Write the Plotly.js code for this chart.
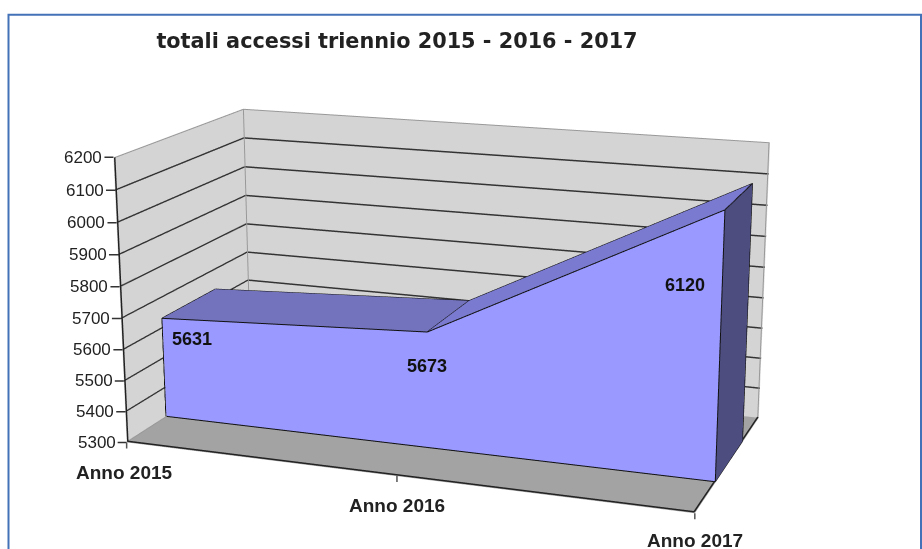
<!DOCTYPE html>
<html><head><meta charset="utf-8">
<script src="https://cdn.plot.ly/plotly-3.0.1.min.js"></script>
<style>html,body{margin:0;padding:0;background:#fff;overflow:hidden;width:922px;height:549px}#c{position:absolute;left:0;filter:blur(0.45px)}</style></head>
<body><div id="c"></div>
<script>
var categories=["Anno 2015","Anno 2016","Anno 2017"];
var values=[5631,5673,6120];
var ticks=[5300,5400,5500,5600,5700,5800,5900,6000,6100,6200];
var titleText='totali accessi triennio 2015 - 2016 - 2017';

// camera fitted to the reference's perspective
var eye={x:1.14988,y:-3.16814,z:0.90569},center={x:0.02355,y:-0.00015,z:-0.01846},up={x:-0.00519,y:0.01113,z:1};
var aspect={x:1,y:0.49655,z:0.49965};
var d0=0.29545,d1=0.71801;           // depth span of the area inside the box
var focal=2025.9477,principalY=303.88344;
var H=focal*2*Math.tan(Math.PI/8),top0=principalY-H/2;
var c=document.getElementById('c');c.style.top=top0+'px';
function py(y){return 1-(y-top0)/H;}
var base=ticks[0],zmax=ticks[ticks.length-1];
var df=d0-0.004,zb=base+3,e=0.003;   // outlines sit just in front of the faces

function face(px,py_,pz,color){return {type:'mesh3d',x:px,y:py_,z:pz,color:color,i:[0,0],j:[1,2],k:[2,3],flatshading:true,lighting:{ambient:1,diffuse:0,specular:0,roughness:1,fresnel:0},hoverinfo:'skip'};}
function line(x,y,z,col,w){return {type:'scatter3d',mode:'lines',x:x,y:y,z:z,line:{color:col,width:w},hoverinfo:'skip',showlegend:false};}
var data=[
 face([0,1,1,0],[d0,d0,d0,d0],[base,base,values[1],values[0]],'#9999ff'),
 face([1,2,2,1],[d0,d0,d0,d0],[base,base,values[2],values[1]],'#9999ff'),
 face([0,1,1,0],[d0,d0,d1,d1],[values[0],values[1],values[1],values[0]],'#7373bd'),
 face([1,2,2,1],[d0,d0,d1,d1],[values[1],values[2],values[2],values[1]],'#7a7ad0'),
 face([2,2,2,2],[d0,d1,d1,d0],[base,base,values[2],values[2]],'#4d4d80'),
 line([0,0,1,2,2,0],[df,df,df,df,df,df],[zb,values[0],values[1],values[2],zb,zb],'#111',2),
 line([0,0,null,1,1,null,2,2,null,2,2],[d0,d1,null,d0,d1,null,d0,d1,null,d0,d1],[values[0],values[0],null,values[1],values[1],null,values[2],values[2],null,zb,zb],'#111',2),
 line([0,1,2,2],[d1,d1,d1,d1],[values[0],values[1],values[2],zb],'#111',2),
 line([e,e,null,e,2-e,null,2-e,2-e],[e,e,null,e,e,null,e,1],[base+1,zmax,null,zb,zb,null,zb,zb],'#222',3),
 line([e,e,2-e,2-e,null,e,e,e],[e,1-e,1-e,1-e,null,1-e,1-e,e],[zmax-1,zmax-1,zmax-1,zb,null,zmax-1,zb,zb],'#999',2)
];
var annos=[];
ticks.forEach(function(t){annos.push({x:0,y:0,z:t,text:String(t),showarrow:true,arrowhead:0,arrowwidth:1.5,arrowcolor:'#333',ax:-9,ay:0,standoff:0,borderpad:1,xanchor:'right',font:{size:17,color:'#222',family:'Liberation Sans'}});});
var catShift=[[-2,-30],[0,-29],[0,-27]];
categories.forEach(function(c,i){
 annos.push({x:i,y:0,z:base,text:'<b>'+c+'</b>',showarrow:false,xshift:catShift[i][0],yshift:catShift[i][1],font:{size:19,color:'#222',family:'Liberation Sans'}});
 annos.push({x:i,y:0,z:base,text:' ',showarrow:true,arrowhead:0,arrowwidth:1.5,arrowcolor:'#555',ax:0,ay:8,standoff:0,font:{size:1}});
});
var valShift=[[30,-21],[-1,-34],[-40,-75]];
values.forEach(function(v,i){annos.push({x:i,y:d0,z:v,text:'<b>'+v+'</b>',showarrow:false,xshift:valShift[i][0],yshift:valShift[i][1],font:{size:18,color:'#111',family:'Liberation Sans'}});});
function ax(extra){return Object.assign({showticklabels:false,showgrid:false,zeroline:false,showline:false,showspikes:false,title:{text:''},ticks:'',autorange:false},extra);}
var layout={width:922,height:H,autosize:false,paper_bgcolor:'#fff',margin:{l:0,r:0,t:0,b:0,pad:0},showlegend:false,hovermode:false,
 title:{text:'<b>'+titleText+'</b>',x:397/922,y:py(40),xanchor:'center',yanchor:'middle',font:{size:20.8,color:'#222',family:'DejaVu Sans'}},
 shapes:[{type:'rect',xref:'paper',yref:'paper',x0:8.5/922,x1:921/922,y0:py(560),y1:py(14.5),line:{color:'#4472b8',width:2}}],
 scene:{domain:{x:[0,1],y:[0,1]},aspectmode:'manual',aspectratio:aspect,
  camera:{eye:eye,center:center,up:up,projection:{type:'perspective'}},
  xaxis:ax({range:[0,2],showbackground:true,backgroundcolor:'#d4d4d4'}),
  yaxis:ax({range:[0,1],showbackground:true,backgroundcolor:'#d4d4d4'}),
  zaxis:ax({range:[base,zmax],showbackground:true,backgroundcolor:'#a3a3a3',tickvals:ticks.slice(1,-1),showgrid:true,gridcolor:'#333',gridwidth:3}),
  annotations:annos}};
Plotly.newPlot('c',data,layout,{displayModeBar:false});
</script></body></html>
